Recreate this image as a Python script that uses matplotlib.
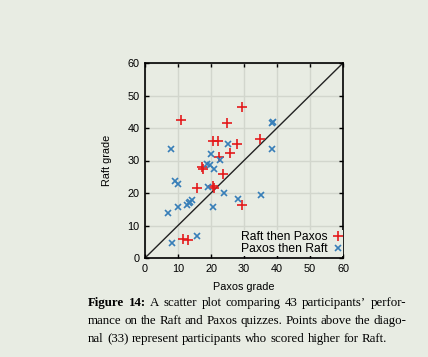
import matplotlib
matplotlib.use("Agg")
import matplotlib.pyplot as plt

# Data (Paxos grade, Raft grade)
raft_then_paxos_x = [11.0, 29.3, 24.8, 20.7, 22.2, 27.8, 25.8, 22.4, 17.2, 17.6, 15.8, 20.5, 21.0, 23.7, 34.7, 29.5, 11.6, 12.9]
raft_then_paxos_y = [42.5, 46.6, 41.4, 36.1, 36.1, 35.0, 32.2, 31.0, 28.0, 27.5, 21.4, 22.3, 21.5, 25.8, 36.5, 16.3, 5.8, 5.5]
paxos_then_raft_x = [8.0, 19.9, 25.3, 38.5, 38.8, 38.6, 22.7, 9.1, 10.1, 18.7, 19.7, 20.8, 19.2, 23.8, 28.3, 35.3, 20.7, 14.1, 13.4, 12.7, 13.6, 10.0, 7.0, 8.1, 15.9]
paxos_then_raft_y = [33.4, 32.0, 35.0, 41.5, 42.0, 33.4, 30.2, 23.7, 22.9, 28.8, 28.5, 27.3, 21.9, 19.9, 18.1, 19.4, 15.6, 17.8, 16.8, 16.4, 17.2, 15.8, 13.7, 4.7, 6.8]
ticks = [0, 10, 20, 30, 40, 50, 60]

BG = "#e8ece3"
RED = "#e41a1c"
BLUE = "#377eb8"

W, H = 428, 357
fig = plt.figure(figsize=(W / 100, H / 100), dpi=100, facecolor=BG)
ax = fig.add_axes([145 / W, 1 - 258 / H, (343 - 145) / W, (258 - 63) / H], facecolor=BG)

ax.set_xlim(0, 60)
ax.set_ylim(0, 60)
ax.set_xticks(ticks)
ax.set_yticks(ticks)
ax.grid(True, color="#d2d6cd", linewidth=1.0)
ax.set_axisbelow(True)
ax.tick_params(direction="in", top=True, right=True, length=3, width=1, labelsize=7.8, pad=4)
for t in ax.get_xticklabels() + ax.get_yticklabels():
    t.set_fontfamily("Liberation Sans")
for s in ax.spines.values():
    s.set_linewidth(1.2)

ax.plot([0, 60], [0, 60], color="#222222", linewidth=1.0, zorder=2)
ax.plot(raft_then_paxos_x, raft_then_paxos_y, linestyle="none", marker="+", markersize=7,
        markeredgewidth=1.2, color=RED, label="Raft then Paxos", zorder=3)
ax.plot(paxos_then_raft_x, paxos_then_raft_y, linestyle="none", marker="x", markersize=5,
        markeredgewidth=1.2, color=BLUE, label="Paxos then Raft", zorder=3)

ax.set_xlabel("Paxos grade", fontsize=7.8, family="Liberation Sans", labelpad=6)
ax.set_ylabel("Raft grade", fontsize=7.8, family="Liberation Sans", labelpad=11)

leg = ax.legend(loc="lower right", markerfirst=False, frameon=True, framealpha=1,
                facecolor=BG, edgecolor="none", fancybox=False,
                prop={"family": "Liberation Sans", "size": 8.7},
                handlelength=0.7, handletextpad=0.45, borderpad=0.1, labelspacing=0.0,
                borderaxespad=0.0, bbox_to_anchor=(1.0, 0.01))

# Caption
cap_font = {"family": "Liberation Serif", "size": 9.3}
lines = [
    ([("Figure", "bold"), ("14:", "bold"), ("A", "normal"), ("scatter", "normal"), ("plot", "normal"),
      ("comparing", "normal"), ("43", "normal"), ("participants\u2019", "normal"), ("perfor-", "normal")], True),
    ([(w, "normal") for w in "mance on the Raft and Paxos quizzes. Points above the diago-".split()], True),
    ([(w, "normal") for w in "nal (33) represent participants who scored higher for Raft.".split()], False),
]
ys = [303, 321, 339]
x0, x1 = 88, 406
fig.canvas.draw()
r = fig.canvas.get_renderer()
for (words, justify), yp in zip(lines, ys):
    texts = [fig.text(0, 1 - yp / H, w, ha="left", va="center", fontweight=wt, **cap_font) for w, wt in words]
    widths = [t.get_window_extent(renderer=r).width for t in texts]
    sp = fig.text(0, 0, "a b", **cap_font)
    spw = sp.get_window_extent(renderer=r).width - fig.text(0, 0, "ab", **cap_font).get_window_extent(renderer=r).width
    for t in fig.texts[-2:]:
        t.remove()
    if justify and len(words) > 1:
        gap = (x1 - x0 - sum(widths)) / (len(words) - 1)
    else:
        gap = spw
    x = x0
    for t, w in zip(texts, widths):
        t.set_x(x / W)
        x += w + gap

fig.savefig("out.png", dpi=100, facecolor=BG)
